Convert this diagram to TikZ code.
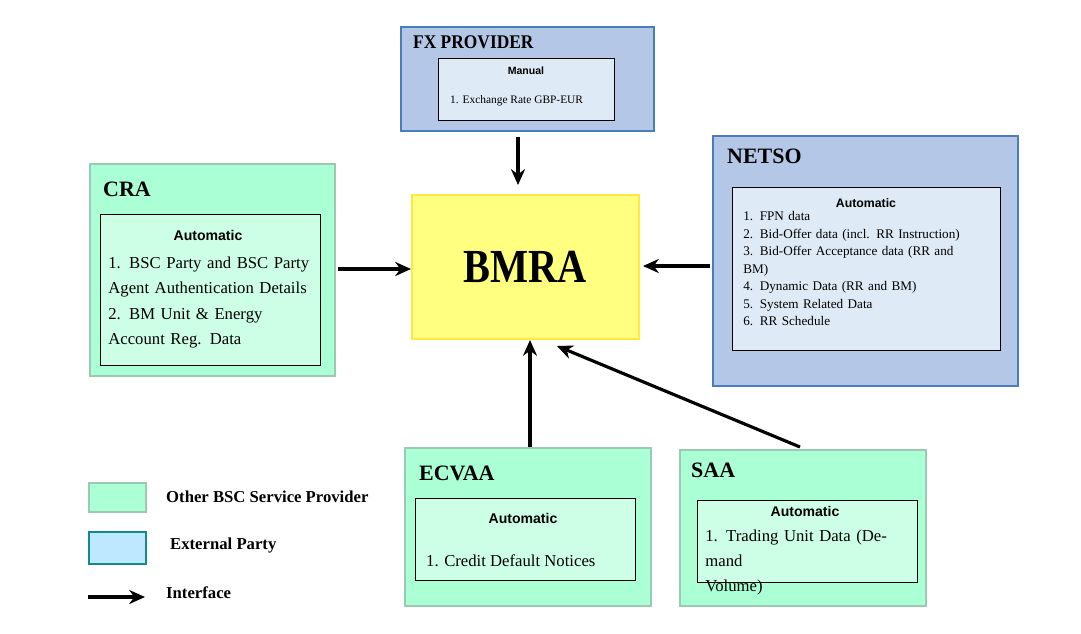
\documentclass[tikz,border=0pt]{standalone}
\usepackage{fontspec}
\setmainfont{Liberation Serif}
\newfontfamily\hdfont{Liberation Sans}
\usetikzlibrary{arrows.meta,positioning,calc}
\definecolor{bscgreen}{HTML}{AAFFD5}
\definecolor{bscline}{HTML}{9CC9B2}
\definecolor{bscinner}{HTML}{CCFFE6}
\definecolor{extblue}{HTML}{B4C7E7}
\definecolor{extline}{HTML}{4A7EBB}
\definecolor{extinner}{HTML}{DEEAF6}
\definecolor{legblue}{HTML}{BDE8FF}
\definecolor{legline}{HTML}{138A8A}
\definecolor{bmrayel}{HTML}{FFFF80}
\definecolor{bmraline}{HTML}{FFE840}
\tikzset{
  outer/.style={draw=#1, line width=1pt, anchor=north west, inner sep=0pt},
  inbox/.style={draw=black, line width=0.6pt, anchor=north west, inner sep=0pt},
  title/.style={anchor=west, font=\bfseries\fontsize{12.5}{14}\selectfont},
  body/.style={anchor=north west, align=left, inner sep=0pt, text width=#1*0.02cm},
  iface/.style={-{Stealth[length=9pt,width=8pt]}, line width=1.8pt},
}
\begin{document}
\begin{tikzpicture}[x=0.02cm, y=-0.02cm]
\useasboundingbox (0,0) rectangle (1081,633);
% outer boxes
\node[outer=extline, fill=extblue, minimum width=253*0.02cm, minimum height=104*0.02cm] (fx) at (400,26) {};
\node[outer=extline, fill=extblue, minimum width=305*0.02cm, minimum height=250*0.02cm] (netso) at (712,135) {};
\node[outer=bscline, fill=bscgreen, minimum width=245*0.02cm, minimum height=212*0.02cm] (cra) at (89,163) {};
\node[outer=bscline, fill=bscgreen, minimum width=246*0.02cm, minimum height=158*0.02cm] (ecvaa) at (404,447) {};
\node[outer=bscline, fill=bscgreen, minimum width=246*0.02cm, minimum height=156*0.02cm] (saa) at (679,449) {};
\node[draw=bmraline, fill=bmrayel, line width=1pt, anchor=north west, minimum width=227*0.02cm, minimum height=144*0.02cm,
  font=\bfseries\fontsize{27}{30}\selectfont] (bmra) at (411,194) {\scalebox{0.85}[1]{BMRA}};
% inner boxes
\node[inbox, fill=extinner, minimum width=176*0.02cm, minimum height=62*0.02cm] (fxin) at (438,58) {};
\node[inbox, fill=extinner, minimum width=268*0.02cm, minimum height=163*0.02cm] (netsoin) at (732,187) {};
\node[inbox, fill=bscinner, minimum width=220*0.02cm, minimum height=151*0.02cm] (crain) at (100,214) {};
\node[inbox, fill=bscinner, minimum width=220*0.02cm, minimum height=82*0.02cm] (ecvaain) at (415,498) {};
\node[inbox, fill=bscinner, minimum width=220*0.02cm, minimum height=82*0.02cm] (saain) at (697,500) {};
% titles
\node[title, font=\bfseries\fontsize{11}{13}\selectfont] (fxt) at (407,42) {\scalebox{0.9}[1]{FX PROVIDER}};
\node[title] (netsot) at (721,156) {NETSO};
\node[title] (crat) at (97,189) {CRA};
\node[title] (ecvaat) at (413,473) {ECVAA};
\node[title] (saat) at (685,470) {SAA};
% contents
\node[font=\hdfont\bfseries\fontsize{6}{7}\selectfont] (fxh) at (526,71) {Manual};
\node[anchor=west, font=\fontsize{6.5}{8}\selectfont] (fxl) at (444,101) {1. Exchange Rate GBP-EUR};
\node[font=\hdfont\bfseries\fontsize{7}{8}\selectfont] (netsoh) at (866,203) {Automatic};
\node[body=255, font=\fontsize{7.5}{10}\selectfont] (netsol) at (743,211)
  {1. FPN data\\ 2. Bid-Offer data (incl. RR Instruction)\\ 3. Bid-Offer Acceptance data (RR and\\ BM)\\
   4. Dynamic Data (RR and BM)\\ 5. System Related Data\\ 6. RR Schedule};
\node[font=\hdfont\bfseries\fontsize{8}{10}\selectfont] (crah) at (208,235) {Automatic};
\node[body=210, font=\fontsize{9.5}{14}\selectfont] (cral) at (108,257)
  {1. BSC Party and BSC Party\\ Agent Authentication Details\\[1pt] 2. BM Unit \& Energy\\ Account Reg. Data};
\node[font=\hdfont\bfseries\fontsize{8}{10}\selectfont] (ecvaah) at (523,518) {Automatic};
\node[anchor=west, font=\fontsize{9.5}{12}\selectfont] (ecvaal) at (420,561) {1. Credit Default Notices};
\node[font=\hdfont\bfseries\fontsize{8}{10}\selectfont] (saah) at (805,511) {Automatic};
\node[body=210, font=\fontsize{9.5}{14}\selectfont] (saal) at (705,530)
  {1. Trading Unit Data (Demand\\ Volume)};
% interfaces
\draw[iface] (fx.south -| 518,0) ++(0,5) -- (518,185);
\draw[iface] (cra.east |- 0,269) ++(2,0) -- (bmra.west |- 0,269);
\draw[iface] (netso.west |- 0,266) ++(-2,0) -- (643,266);
\draw[iface] (ecvaa.north -| 530,0) -- (530,340);
\draw[iface] (800,447) -- (557,346);
% legend
\node[outer=bscline, fill=bscgreen, minimum width=57*0.02cm, minimum height=29*0.02cm] (leg1) at (88,482) {};
\node[outer=legline, fill=legblue, minimum width=57*0.02cm, minimum height=32*0.02cm] (leg2) at (88,531) {};
\coordinate (leg3a) at (88,597);
\coordinate (leg3b) at (145,597);
\draw[iface] (leg3a) -- (leg3b);
\node[anchor=west, font=\bfseries\fontsize{9.5}{12}\selectfont] (leg1t) at (160,497) {Other BSC Service Provider};
\node[anchor=west, font=\bfseries\fontsize{9.5}{12}\selectfont] (leg2t) at (164,545) {External Party};
\node[anchor=west, font=\bfseries\fontsize{9.5}{12}\selectfont] (leg3t) at (160,593) {Interface};
\end{tikzpicture}
\end{document}
